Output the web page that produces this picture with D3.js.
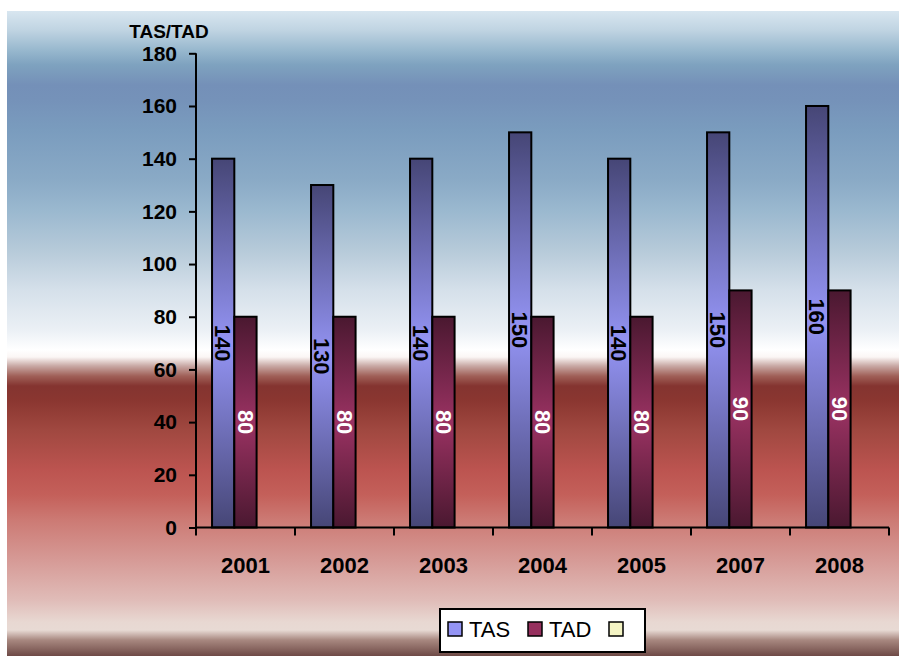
<!DOCTYPE html>
<html><head><meta charset="utf-8">
<script src="https://cdn.jsdelivr.net/npm/d3@7"></script>
<style>html,body{margin:0;padding:0;background:#fff;}svg{display:block;}</style>
</head><body>
<script>
const categories = ['2001','2002','2003','2004','2005','2007','2008'];
const tasValues = [140,130,140,150,140,150,160];
const tadValues = [80,80,80,80,80,90,90];
const yTicks = [0,20,40,60,80,100,120,140,160,180];
const seriesNames = ['TAS','TAD',''];
const yTitle = 'TAS/TAD';

const W = 899, H = 656;
const svg = d3.select('body').append('svg').attr('width', W).attr('height', H);
const defs = svg.append('defs');

// background gradient
const bg = defs.append('linearGradient').attr('id','bg').attr('gradientUnits','userSpaceOnUse')
  .attr('x1',0).attr('y1',11).attr('x2',0).attr('y2',656);
const bgStops = [
  [11,'#d8e6f0'],[30,'#c0d4e2'],[50,'#98b8ce'],[65,'#7ea2bf'],[85,'#7490b8'],[100,'#7592b9'],
  [130,'#7a9cbe'],[180,'#8aaac6'],[210,'#9ab8cf'],[250,'#b6cad9'],[290,'#d5e0ea'],[330,'#ebf0f5'],
  [350,'#ffffff'],[357,'#fbf6f5'],[366,'#c8a8a4'],[376,'#a06058'],[386,'#843430'],[400,'#8a3630'],
  [430,'#a04840'],[470,'#bc5450'],[495,'#c4605a'],[520,'#cc7a74'],[560,'#d69a96'],[600,'#e0bcb8'],
  [622,'#e8d8d2'],[630,'#e8dad4'],[640,'#a88880'],[656,'#6e4a46']
];
bgStops.forEach(s => bg.append('stop').attr('offset', ((s[0]-11)/(656-11))).attr('stop-color', s[1]));
svg.append('rect').attr('x',7).attr('y',11).attr('width',W-7).attr('height',H-11).attr('fill','url(#bg)');

// bar gradients
function barGrad(id, dark, light) {
  const g = defs.append('linearGradient').attr('id', id).attr('x1',0).attr('y1',0).attr('x2',0).attr('y2',1);
  g.append('stop').attr('offset',0).attr('stop-color',dark);
  g.append('stop').attr('offset',0.5).attr('stop-color',light);
  g.append('stop').attr('offset',1).attr('stop-color',dark);
}
barGrad('gTAS','#464676','#9494f4');
barGrad('gTAD','#4a1830','#9a3262');

const x = d3.scaleBand().domain(categories).range([196, 889]).padding(0);
const y = d3.scaleLinear().domain([0,180]).range([527.5, 53.3]);
const bw = x.bandwidth();
const inner = d3.scaleBand().domain(['TAS','TAD']).range([0, bw*0.45]);
const groupOffset = bw*0.162;

const data = categories.map((c,i) => ({c, tas: tasValues[i], tad: tadValues[i]}));

const g = svg.append('g');
// bars
['TAS','TAD'].forEach(s => {
  const key = s.toLowerCase();
  g.selectAll('rect.'+key).data(data).enter().append('rect')
    .attr('x', d => x(d.c) + groupOffset + inner(s))
    .attr('y', d => y(d[key]))
    .attr('width', inner.bandwidth())
    .attr('height', d => y(0) - y(d[key]))
    .attr('fill', 'url(#g'+s+')')
    .attr('stroke','#000').attr('stroke-width',2);
  g.selectAll('text.'+key).data(data).enter().append('text')
    .attr('transform', d => {
      const cx = x(d.c) + groupOffset + inner(s) + inner.bandwidth()/2;
      const cy = (y(d[key]) + y(0))/2;
      return `translate(${cx},${cy}) rotate(90)`;
    })
    .attr('text-anchor','middle').attr('dy','0.35em')
    .attr('font-family','Liberation Sans, Arial, sans-serif').attr('font-weight','bold').attr('font-size',22)
    .attr('fill', s==='TAS' ? '#000' : '#fff')
    .text(d => d[key]);
});

// y axis
const yAxis = d3.axisLeft(y).tickValues(yTicks).tickSize(7).tickPadding(12);
const ya = svg.append('g').attr('transform','translate(196,0)').call(yAxis);
ya.select('.domain').attr('stroke','#000').attr('stroke-width',2).attr('d', `M0,${y(180)}V${y(0)}`);
ya.selectAll('.tick line').attr('stroke','#000').attr('stroke-width',2);
ya.selectAll('.tick text').attr('font-family','Liberation Sans, Arial, sans-serif').attr('font-weight','bold').attr('font-size',21).attr('fill','#000');

// x axis
const xAxis = d3.axisBottom(x).tickSize(0).tickPadding(30);
const xa = svg.append('g').attr('transform',`translate(0,${y(0)})`).call(xAxis);
xa.select('.domain').attr('stroke','#000').attr('stroke-width',2).attr('d', `M196,0H889`);
xa.selectAll('.tick text').attr('font-family','Liberation Sans, Arial, sans-serif').attr('font-weight','bold').attr('font-size',22).attr('fill','#000');
const bounds = categories.map(c => x(c)).concat([x(categories[categories.length-1]) + bw]);
xa.selectAll('line.bt').data(bounds).enter().append('line').attr('class','bt')
  .attr('x1', d=>d).attr('x2', d=>d).attr('y1',0).attr('y2',8).attr('stroke','#000').attr('stroke-width',2);

// title
svg.append('text').attr('x',169).attr('y',38).attr('text-anchor','middle')
  .attr('font-family','Liberation Sans, Arial, sans-serif').attr('font-weight','bold').attr('font-size',19).text(yTitle);

// legend
const lg = svg.append('g');
lg.append('rect').attr('x',440).attr('y',609).attr('width',205).attr('height',43).attr('fill','#fff').attr('stroke','#000').attr('stroke-width',2);
const legendFills = ['#9494f4','#96305e','#f4f4c4'];
const legendX = [448, 528, 609];
seriesNames.forEach((n,i) => {
  lg.append('rect').attr('x',legendX[i]).attr('y',622).attr('width',14).attr('height',14)
    .attr('fill',legendFills[i]).attr('stroke','#000').attr('stroke-width',1.5);
  if (n) lg.append('text').attr('x',legendX[i]+21).attr('y',637)
    .attr('font-family','Liberation Sans, Arial, sans-serif').attr('font-size',22).text(n);
});
</script>
</body></html>
